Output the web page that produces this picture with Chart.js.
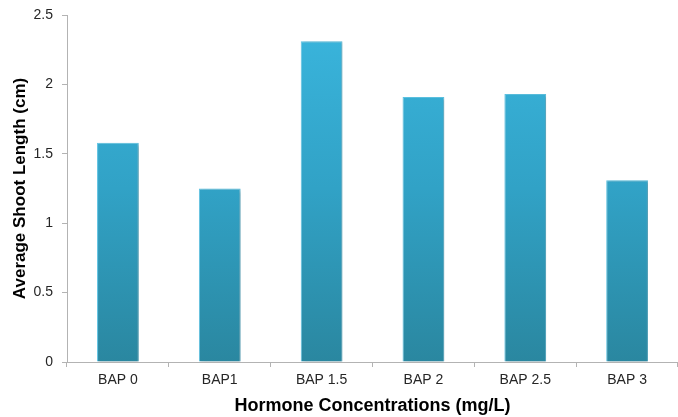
<!DOCTYPE html>
<html>
<head>
<meta charset="utf-8">
<script src="https://cdn.jsdelivr.net/npm/chart.js@4.4.0/dist/chart.umd.min.js"></script>
<style>
  html, body { margin: 0; padding: 0; background: #fff; }
  canvas { display: block; }
</style>
</head>
<body>
<canvas id="chart" width="678" height="417"></canvas>
<script>
// chart data
const categories = ["BAP 0", "BAP1", "BAP 1.5", "BAP 2", "BAP 2.5", "BAP 3"];
const shootLength = [1.58, 1.25, 2.31, 1.91, 1.93, 1.31];
const yTicks = [0, 0.5, 1, 1.5, 2, 2.5];

// vertical gradient like the original bars
function barGradient(context) {
  const area = context.chart.chartArea;
  if (!area) return "#33a9cf";
  const g = context.chart.ctx.createLinearGradient(0, area.top, 0, area.bottom);
  g.addColorStop(0, "#3ab6de");
  g.addColorStop(0.5, "#31a2c6");
  g.addColorStop(1, "#2a87a0");
  return g;
}

// soft shadow on the bars
const barShadow = {
  id: "barShadow",
  beforeDatasetDraw(chart) {
    const c = chart.ctx;
    c.save();
    c.shadowColor = "rgba(0,0,0,0.25)";
    c.shadowBlur = 3;
    c.shadowOffsetX = 2;
    c.shadowOffsetY = 1;
  },
  afterDatasetDraw(chart) {
    chart.ctx.restore();
  }
};

const axisColor = "#b3b3b3";
const ctx = document.getElementById("chart").getContext("2d");
new Chart(ctx, {
  type: "bar",
  data: {
    labels: categories,
    datasets: [{
      data: shootLength,
      backgroundColor: barGradient,
      borderColor: "#5cc3e3",
      borderWidth: { left: 1, right: 1, top: 1, bottom: 0 },
      barPercentage: 0.41,
      categoryPercentage: 1
    }]
  },
  options: {
    responsive: false,
    animation: false,
    layout: { padding: { top: 15, right: 0, left: 0, bottom: 0 } },
    plugins: { legend: { display: false }, tooltip: { enabled: false } },
    scales: {
      x: {
        offset: true,
        grid: { offset: true, drawOnChartArea: false, drawTicks: true, tickLength: 5, color: axisColor },
        border: { color: axisColor, width: 1 },
        ticks: { color: "#262626", font: { family: "Liberation Sans, Arial", size: 14 }, padding: 5, maxRotation: 0 },
        title: {
          display: true,
          text: "Hormone Concentrations (mg/L)",
          color: "#000",
          font: { family: "Liberation Sans, Arial", size: 18, weight: "bold" },
          padding: { top: 0, bottom: 0 }
        },
        afterFit(scale) { scale.height = 55; }
      },
      y: {
        min: 0,
        max: 2.5,
        afterBuildTicks(scale) { scale.ticks = yTicks.map(v => ({ value: v })); },
        grid: { drawOnChartArea: false, drawTicks: true, tickLength: 5, color: axisColor },
        border: { color: axisColor, width: 1 },
        ticks: {
          color: "#262626",
          font: { family: "Liberation Sans, Arial", size: 14 },
          padding: 9,
          callback: v => String(v)
        },
        title: {
          display: true,
          text: "Average Shoot Length (cm)",
          color: "#000",
          font: { family: "Liberation Sans, Arial", size: 17, weight: "bold" },
          padding: { top: 10, bottom: 0 }
        },
        afterFit(scale) {
          scale.width = 67;
          scale.paddingTop = 0;
        }
      }
    }
  },
  plugins: [barShadow]
});
</script>
</body>
</html>
